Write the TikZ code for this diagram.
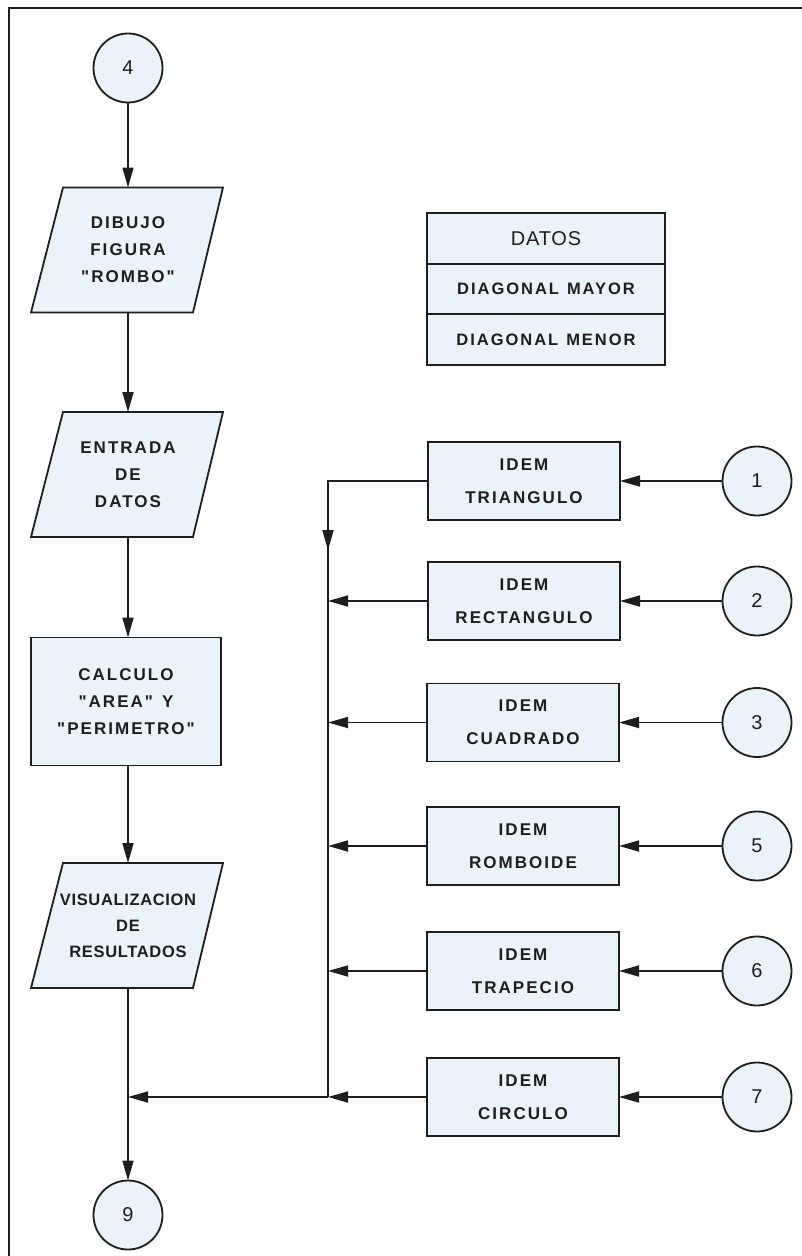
\documentclass[tikz,border=0pt]{standalone}
\usepackage{fontspec}
\setmainfont{Liberation Sans}
\newfontfamily\lblfont[LetterSpace=12]{Liberation Sans}
\newfontfamily\lblfontn[LetterSpace=4]{Liberation Sans}
\newfontfamily\numfont[LetterSpace=4]{Liberation Sans}
\usetikzlibrary{arrows.meta,backgrounds}
\definecolor{boxfill}{RGB}{233,243,248}
\definecolor{ink}{RGB}{30,30,30}
\begin{document}
\begin{tikzpicture}[x=1pt,y=-1pt,
  every node/.style={inner sep=0pt, outer sep=0pt, text=ink},
  lbl/.style={font=\lblfont\bfseries\fontsize{17}{27}\selectfont, align=center},
  shapeline/.style={draw=ink, line width=1.8pt, fill=boxfill, line join=miter},
  para/.style={lbl, minimum width=130pt, minimum height=125pt},
  procbox/.style={lbl, shapeline, minimum width=190pt, minimum height=128pt},
  idem/.style={font=\lblfont\bfseries\fontsize{17}{33}\selectfont, align=center,
    shapeline, minimum width=192pt, minimum height=78pt},
  conn/.style={circle, shapeline, minimum size=69pt,
    font=\numfont\fontsize{20}{22}\selectfont},
  tabcell/.style={shapeline, minimum width=238pt,
    minimum height=50.7pt, font=\lblfont\bfseries\fontsize{16.5}{19}\selectfont},
  line/.style={draw=ink, line width=1.7pt},
  arr/.style={line, -{Triangle[length=20pt,width=11pt]}}
]
\useasboundingbox (0,0) rectangle (802,1256);

% left column
\node[conn] (c4) at (128,68) {4};
\node[para] (p1) at (128,250) {DIBUJO\\FIGURA\\"ROMBO"};
\node[para] (p2) at (128,474.5) {ENTRADA\\DE\\DATOS};
\node[procbox] (r1) at (126,701.5) {CALCULO\\"AREA"\hspace{9pt}Y\\"PERIMETRO"};
\node[para, font=\lblfontn\bfseries\fontsize{16.5}{26}\selectfont] (p3) at (128,925.5) {VISUALIZACION\\DE\\RESULTADOS};
\node[conn] (c9) at (128,1215) {9};

\begin{scope}[on background layer]
  \fill[white] (0,0) rectangle (802,1256);
  \foreach \p in {p1,p2,p3}
    \draw[shapeline, shift={(\p.center)}] (-65,-62.5) -- (95,-62.5) -- (65,62.5) -- (-97,62.5) -- cycle;
\end{scope}

% frame
\draw[draw=ink, line width=2.6pt] (9,1256) -- (9,8) -- (802,8);

% data table
\node[tabcell, font=\numfont\fontsize{20}{22}\selectfont] (t1) at (546,238.3) {DATOS};
\node[tabcell] (t2) at (546,289) {DIAGONAL\hspace{8pt}MAYOR};
\node[tabcell] (t3) at (546,339.7) {DIAGONAL\hspace{8pt}MENOR};

% right column
\node[idem] (b1) at (524,481) {IDEM\\TRIANGULO};
\node[idem] (b2) at (524,601) {IDEM\\RECTANGULO};
\node[idem] (b3) at (523,722.5) {IDEM\\CUADRADO};
\node[idem] (b4) at (523,846) {IDEM\\ROMBOIDE};
\node[idem] (b5) at (523,971) {IDEM\\TRAPECIO};
\node[idem] (b6) at (523,1097) {IDEM\\CIRCULO};

\node[conn] (c1) at (757,481) {1};
\node[conn] (c2) at (757,601) {2};
\node[conn] (c3) at (757,722.5) {3};
\node[conn] (c5) at (757,846) {5};
\node[conn] (c6) at (757,971) {6};
\node[conn] (c7) at (757,1097) {7};

\coordinate (busx) at (328,0);
\coordinate (busArrow) at (328,550);

% main flow
\draw[arr] (c4) -- (p1.north);
\draw[arr] (p1.south) -- (p2.north);
\draw[arr] (p2.south) -- (p2.center |- r1.north);
\draw[arr] (p2.center |- r1.south) -- (p3.north);
\draw[arr] (p3.south) -- (c9);

% connectors into boxes
\foreach \c/\b in {c1/b1,c2/b2,c3/b3,c5/b4,c6/b5,c7/b6}
  \draw[arr] (\c) -- (\b);

% bus
\draw[line] (b1.west) -- (b1.west -| busx) -- (b6.west -| busx);
\draw[arr] (b1.west -| busx) -- (busArrow);
\foreach \b in {b2,b3,b4,b5,b6}
  \draw[arr] (\b.west) -- (\b.west -| busx);
\draw[arr] (b6.west -| busx) -- (b6.west -| c9.center);
\end{tikzpicture}
\end{document}
